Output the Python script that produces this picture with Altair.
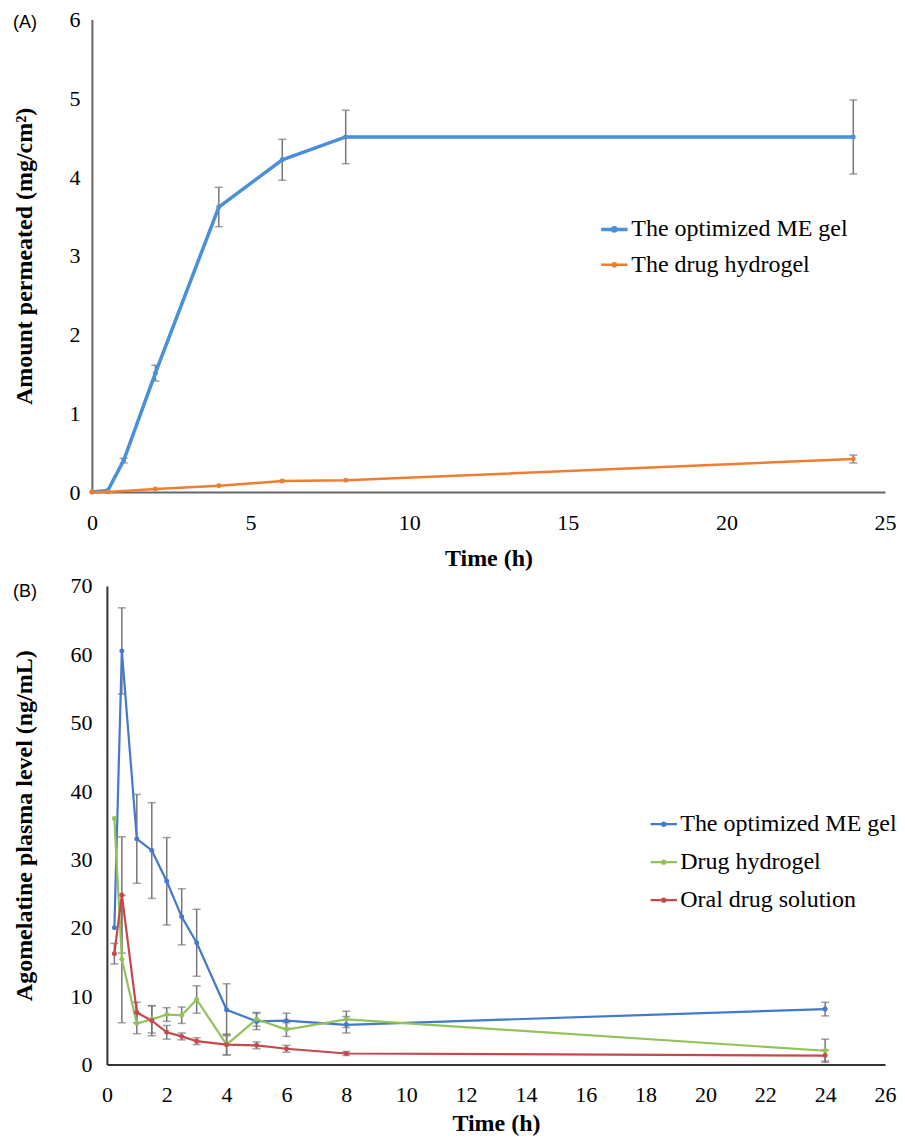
import altair as alt
import pandas as pd

# ---------- Panel A data ----------
tA_me = [0, 0.5, 1, 2, 4, 6, 8, 24]
me_gel_A = [0.0, 0.02, 0.40, 1.51, 3.62, 4.22, 4.51, 4.51]
me_gel_A_err = [0, 0, 0.03, 0.10, 0.25, 0.26, 0.34, 0.47]
tA_hy = [0, 0.5, 2, 4, 6, 8, 24]
hydro_A = [0.0, 0.0, 0.04, 0.08, 0.14, 0.15, 0.42]
hydro_A_err = [0, 0, 0, 0, 0, 0, 0.05]
seriesA = ["The optimized ME gel", "The drug hydrogel"]
colorsA = ["#4A8FD9", "#F27D30"]

# ---------- Panel B data ----------
tB = [0.25, 0.5, 1, 1.5, 2, 2.5, 3, 4, 5, 6, 8, 24]
me_gel_B = [20.0, 60.5, 33.0, 31.3, 26.8, 21.6, 17.8, 8.0, 6.3, 6.4, 5.8, 8.1]
me_gel_B_err = [0, 6.3, 6.5, 7.0, 6.4, 4.1, 4.9, 3.8, 1.2, 1.1, 1.2, 1.0]
hydro_B = [36.0, 15.4, 6.0, 6.6, 7.3, 7.2, 9.5, 2.9, 6.6, 5.1, 6.6, 2.0]
hydro_B_err = [0, 9.3, 1.5, 2.0, 1.0, 1.2, 2.0, 1.5, 1.0, 1.0, 1.2, 1.7]
oral_B = [16.2, 24.8, 7.6, 6.4, 4.7, 4.1, 3.4, 2.9, 2.8, 2.3, 1.6, 1.3]
oral_B_err = [1.5, 8.5, 1.5, 2.2, 1.0, 0.5, 0.5, 1.5, 0.5, 0.5, 0.3, 0.8]
seriesB = ["The optimized ME gel", "Drug hydrogel", "Oral drug solution"]
colorsB = ["#4478CC", "#92C25A", "#C8474C"]


def frame(ts, vals, errs, name):
    return pd.DataFrame({
        "t": ts, "v": vals, "lo": [v - e for v, e in zip(vals, errs)],
        "hi": [v + e for v, e in zip(vals, errs)], "err": errs, "s": name})


dfA = pd.concat([frame(tA_me, me_gel_A, me_gel_A_err, seriesA[0]),
                 frame(tA_hy, hydro_A, hydro_A_err, seriesA[1])], ignore_index=True)
dfB = pd.concat([frame(tB, me_gel_B, me_gel_B_err, seriesB[0]),
                 frame(tB, hydro_B, hydro_B_err, seriesB[1]),
                 frame(tB, oral_B, oral_B_err, seriesB[2])], ignore_index=True)

SERIF = "Liberation Serif"
SYMBOL = "M-1,0H1M0.12,0A0.12,0.12,0,1,1,-0.12,0A0.12,0.12,0,1,1,0.12,0"
W = 794


def panel(df, series, colors, xdom, xstep, ydom, ystep, ytitle, label,
          inset, h, lx, ly, widths, domc, xlp, xtp, ylp, ytp, rowpad, toff):
    xs = alt.X("t:Q", scale=alt.Scale(domain=xdom, nice=False, range=[inset, W]),
               axis=alt.Axis(title="Time (h)", values=list(range(xdom[0], xdom[1] + 1, xstep)),
                             format="d", grid=False, ticks=False, labelFont=SERIF,
                             labelFontSize=22, labelColor="black", titleFont=SERIF,
                             titleFontSize=24, titleFontWeight="bold", titleColor="black",
                             labelPadding=xlp, titlePadding=xtp, domainColor=domc,
                             domainWidth=2, labelFlush=False))
    ys = alt.Y("v:Q", scale=alt.Scale(domain=ydom, nice=False),
               axis=alt.Axis(title=ytitle, values=list(range(ydom[0], ydom[1] + 1, ystep)),
                             format="d", grid=False, ticks=False, labelFont=SERIF,
                             labelFontSize=22, labelColor="black", titleFont=SERIF,
                             titleFontSize=24, titleFontWeight="bold", titleColor="black",
                             labelPadding=ylp, titlePadding=ytp, domainColor=domc,
                             domainWidth=2, offset=-inset))
    color = alt.Color("s:N", scale=alt.Scale(domain=series, range=colors),
                      legend=alt.Legend(title=None, orient="none", legendX=lx, legendY=ly,
                                        labelFont=SERIF, labelFontSize=24, labelColor="black",
                                        labelLimit=400, symbolType=SYMBOL, symbolSize=700,
                                        symbolStrokeWidth=2, symbolOffset=0, rowPadding=rowpad,
                                        labelOffset=2))
    base = alt.Chart(df)
    err = base.transform_filter("datum.err > 0")
    bars = err.mark_rule(color="#777", strokeWidth=1.5).encode(
        x="t:Q", y="lo:Q", y2="hi:Q")
    caps_hi = err.mark_tick(color="#777", thickness=1.5, size=8, orient="horizontal").encode(
        x="t:Q", y="hi:Q")
    caps_lo = err.mark_tick(color="#777", thickness=1.5, size=8, orient="horizontal").encode(
        x="t:Q", y="lo:Q")
    lines = base.mark_line().encode(
        x=xs, y=ys, color=color, order="t:Q",
        strokeWidth=alt.StrokeWidth("s:N", scale=alt.Scale(domain=series, range=widths),
                                    legend=None))
    pts = base.mark_point(filled=True, size=25, opacity=1).encode(
        x="t:Q", y="v:Q", color=alt.Color("s:N", legend=None,
                                          scale=alt.Scale(domain=series, range=colors)))
    return alt.layer(bars, caps_hi, caps_lo, lines, pts).properties(
        width=W, height=h,
        title=alt.TitleParams(label, anchor="start", frame="bounds", font="Liberation Sans",
                              fontSize=18, fontWeight="normal", color="black", offset=toff))


chartA = panel(dfA, seriesA, colorsA, [0, 25], 5, [0, 6], 1,
               "Amount permeated (mg/cm²)", "(A)", 0, 473, 508, 195,
               [3.5, 2.5], "#666", 20, 13, 12, 32, 9, -23)
chartB = panel(dfB, seriesB, colorsB, [0, 26], 2, [0, 70], 10,
               "Agomelatine plasma level (ng/mL)", "(B)", 15, 479, 558, 224,
               [2.2, 2.2, 2.2], "#333", 20, 6, 15, 33, 11, -26)

chart = alt.vconcat(chartA, chartB, spacing=5).resolve_scale(
    color="independent", strokeWidth="independent").configure_view(stroke=None).properties(
    padding={"left": 5, "top": 0, "right": 0, "bottom": 0})

chart.save("out.html", embed_options={"renderer": "svg", "actions": False})
